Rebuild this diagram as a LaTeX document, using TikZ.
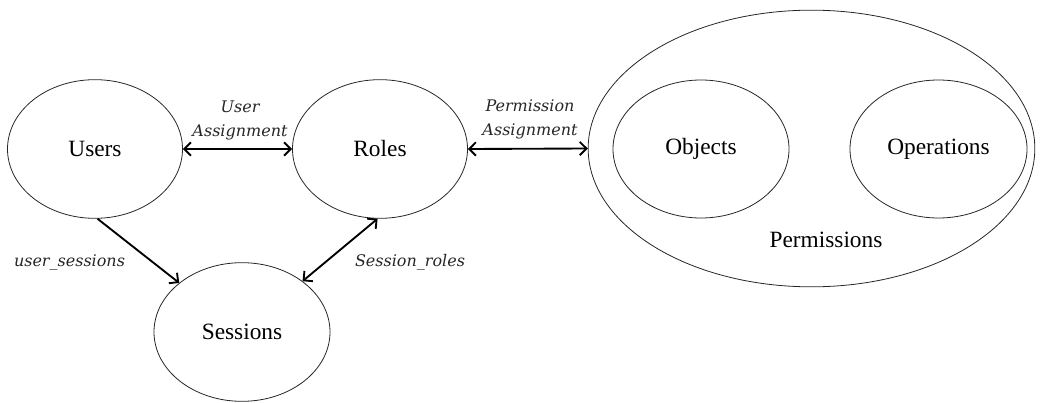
\documentclass[tikz,border=0pt]{standalone}
\usepackage{fontspec}
\setmainfont{Liberation Serif}
\newfontfamily\lblfamily{DejaVu Serif}
\usetikzlibrary{shapes.geometric,arrows.meta}
\tikzset{
  ent/.style={ellipse, draw=black!85, line width=0.6pt, inner sep=0pt,
    font=\fontsize{17.5}{21}\selectfont},
  lbl/.style={font=\lblfamily\itshape\fontsize{12}{18}\selectfont, align=center, text=black!85, inner sep=0pt},
  arr/.style={line width=1.4pt, -{Straight Barb[length=5pt,width=10pt,line width=1.4pt]}},
  barr/.style={line width=1.4pt, {Straight Barb[length=5pt,width=10pt,line width=1.4pt]}-{Straight Barb[length=5pt,width=10pt,line width=1.4pt]}}
}
\begin{document}
\begin{tikzpicture}[x=0.75pt,y=-0.75pt]
\useasboundingbox (0,0) rectangle (1040,403);
% entities
\node[ent, minimum width=131.25pt, minimum height=104pt] (users) at (95,149) {Users};
\node[ent, minimum width=131.25pt, minimum height=104pt] (roles) at (380,149) {Roles};
\node[ent, minimum width=132pt, minimum height=104pt] (sessions) at (242,332) {Sessions};
\node[ent, minimum width=335pt, minimum height=207.5pt] (perm) at (811.5,148.5) {};
\node[ent, minimum width=132pt, minimum height=103.5pt] (objects) at (701,149) {Objects};
\node[ent, minimum width=132.75pt, minimum height=103.5pt] (operations) at (938.5,149) {Operations};
\node[font=\fontsize{17.5}{21}\selectfont, inner sep=0pt] (permlbl) at (826,240) {Permissions};
% connectors
\draw[barr] (users.east) -- (roles.west);
\draw[barr] (roles.east) -- (perm.west);
\draw[arr] (users.-88) -- (sessions.142);
\draw[barr] (sessions.40) -- (roles.-92);
% labels
\node[lbl] (ualbl) at (240,120) {User\\Assignment};
\node[lbl] (palbl) at (530,119) {Permission\\Assignment};
\node[lbl] (uslbl) at (69.5,262) {user\_sessions};
\node[lbl] (srlbl) at (410,262) {Session\_roles};
\end{tikzpicture}
\end{document}
